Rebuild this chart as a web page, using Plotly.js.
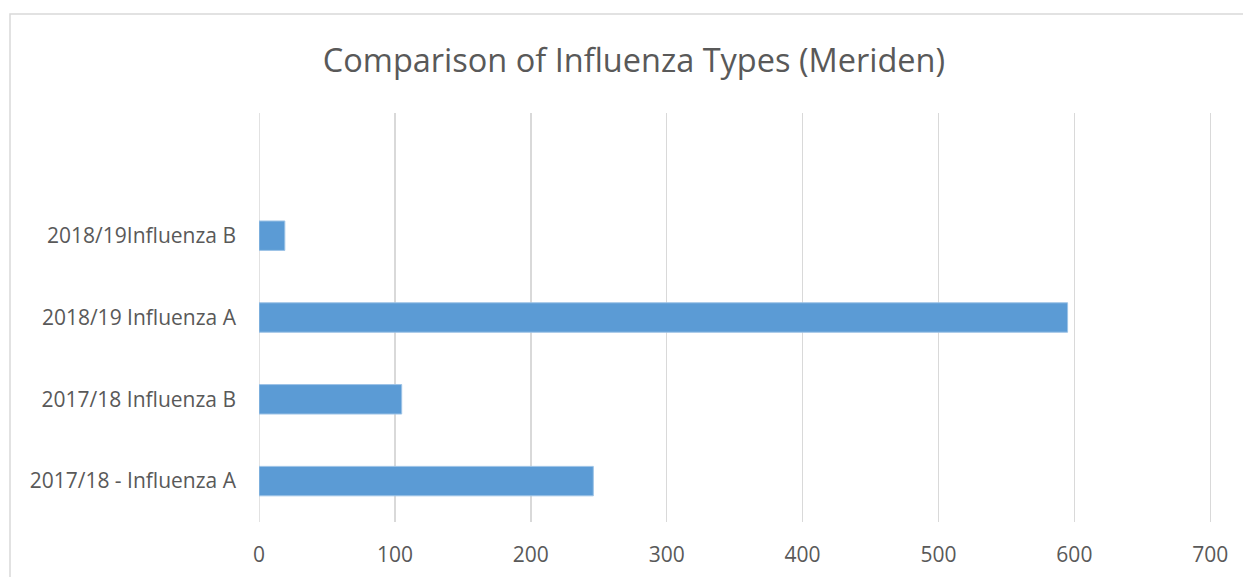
<!DOCTYPE html>
<html>
<head>
<meta charset="utf-8">
<script src="https://cdn.plot.ly/plotly-3.0.1.min.js"></script>
<style>
html,body{margin:0;padding:0;background:#fff;}
#chart{width:1243px;height:577px;}
</style>
</head>
<body>
<div id="chart"></div>
<script>
const categories = ["2017/18 - Influenza A", "2017/18 Influenza B", "2018/19 Influenza A", "2018/19Influenza B"];
const values = [246, 105, 595, 19];
const xTicks = [0, 100, 200, 300, 400, 500, 600, 700];

const idx = categories.map((c, i) => i);

const trace = {
  type: 'bar',
  orientation: 'h',
  x: values,
  y: idx,
  width: 0.36,
  marker: { color: '#5b9bd5', line: { color: '#9dc3e6', width: 1 } },
  hoverinfo: 'x+text',
  text: categories,
  textposition: 'none'
};

const layout = {
  width: 1243,
  height: 577,
  margin: { l: 259, r: 30, t: 113, b: 55 },
  paper_bgcolor: '#ffffff',
  plot_bgcolor: '#ffffff',
  showlegend: false,
  font: { family: 'Open Sans, Noto Sans, sans-serif', color: '#595959' },
  title: {
    text: 'Comparison of Influenza Types (Meriden)',
    font: { size: 32.5, color: '#595959', family: 'Open Sans, Noto Sans, sans-serif' },
    x: 0.51, xanchor: 'center',
    y: 0.895, yanchor: 'middle'
  },
  xaxis: {
    range: [0, 702],
    tickvals: xTicks,
    ticktext: xTicks.map(String),
    showgrid: true,
    gridcolor: '#d9d9d9',
    gridwidth: 1.5,
    zeroline: false,
    showline: false,
    ticks: '',
    ticklabelstandoff: 18,
    tickfont: { size: 21, color: '#595959' },
    fixedrange: true
  },
  yaxis: {
    range: [-0.5, 4.5],
    tickvals: idx,
    ticktext: categories,
    showgrid: false,
    zeroline: false,
    showline: false,
    ticks: '',
    ticklabelstandoff: 22,
    tickfont: { size: 21, color: '#595959' },
    fixedrange: true
  },
  shapes: [
    {
      type: 'line', xref: 'x', yref: 'paper',
      x0: 0, x1: 0, y0: 0, y1: 1,
      line: { color: '#d9d9d9', width: 1.5 }, layer: 'below'
    },
    {
      type: 'rect', xref: 'paper', yref: 'paper',
      x0: (10 - 259) / 954, x1: 1.1,
      y0: -0.3, y1: (522 - 14) / 409,
      line: { color: '#d9d9d9', width: 1.5 },
      fillcolor: 'rgba(0,0,0,0)', layer: 'below'
    }
  ]
};

Plotly.newPlot('chart', [trace], layout, { displayModeBar: false, staticPlot: true });
</script>
</body>
</html>
